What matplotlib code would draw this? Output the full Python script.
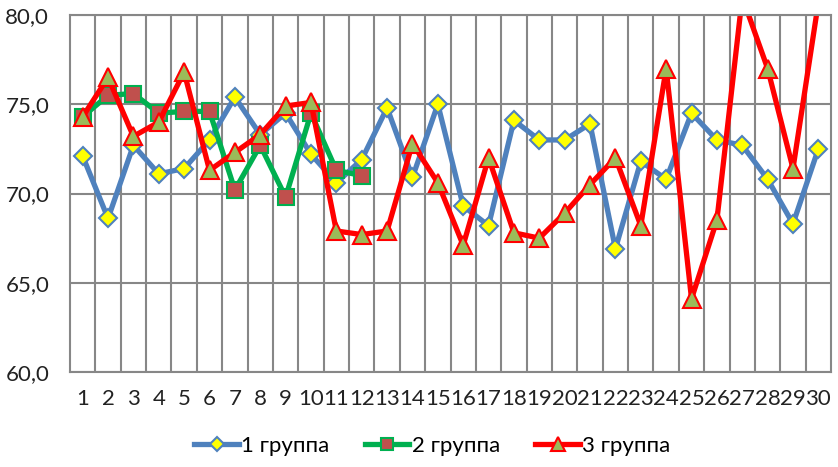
import numpy as np
import matplotlib
matplotlib.use("Agg")
import matplotlib.pyplot as plt

plt.rcParams['font.family'] = ['Lato', 'DejaVu Sans']

# данные
x = list(range(1, 31))
group1 = [72.1, 68.6, 72.7, 71.1, 71.4, 73.0, 75.4, 73.3, 74.5, 72.2,
          70.6, 71.9, 74.8, 70.9, 75.0, 69.3, 68.2, 74.1, 73.0, 73.0,
          73.9, 66.9, 71.8, 70.8, 74.5, 73.0, 72.7, 70.8, 68.3, 72.5]
group2 = [74.3, 75.5, 75.6, 74.5, 74.6, 74.6, 70.2, 72.7, 69.8, 74.5,
          71.3, 71.0]
group3 = [74.3, 76.5, 73.2, 74.0, 76.8, 71.3, 72.3, 73.3, 74.9, 75.1,
          67.9, 67.7, 67.9, 72.8, 70.6, 67.1, 72.0, 67.8, 67.5, 68.9,
          70.5, 72.0, 68.2, 77.0, 64.1, 68.5, 81.0, 77.0, 71.4, 80.7]
labels = ['1 группа', '2 группа', '3 группа']
yticks = [60, 65, 70, 75, 80]

fig = plt.figure(figsize=(8.38, 4.67), dpi=100)
ax = fig.add_axes([0.0835, 0.2034, 0.9082, 0.7645])

grid_c = '#878787'
ax.set_xlim(0.5, 30.5)
ax.set_ylim(60, 80)
ax.set_yticks(yticks)
ax.set_yticklabels([f'{v:.1f}'.replace('.', ',') for v in yticks])
ax.set_xticks(x)
ax.set_xticklabels([str(i) for i in x])
ax.set_xticks(np.arange(1.5, 30, 1), minor=True)
ax.grid(True, axis='y', which='major', color=grid_c, lw=1.5)
ax.grid(True, axis='x', which='minor', color=grid_c, lw=1.5)
ax.tick_params(which='both', length=0, labelsize=16, colors='#222222')
ax.tick_params(axis='y', pad=15)
ax.tick_params(axis='x', pad=12)
for s in ax.spines.values():
    s.set_color(grid_c)
    s.set_linewidth(1.5)
ax.set_axisbelow(True)

ax.plot(x, group1, color='#4F81BD', lw=3.8, marker='D', ms=9.5,
        mfc='#FFFF00', mec='#4F81BD', mew=1.5, label=labels[0])
ax.plot(x[:len(group2)], group2, color='#00B050', lw=3.8, marker='s', ms=12,
        mfc='#C0504D', mec='#00B050', mew=1.5, label=labels[1])
ax.plot(x, group3, color='#FF0000', lw=3.8, marker='^', ms=13,
        mfc='#9BBB59', mec='#FF0000', mew=1.5, label=labels[2])

fig.legend(loc='center', bbox_to_anchor=(0.516, 0.045), ncol=3, frameon=False,
           fontsize=16, handlelength=2.0, columnspacing=1.6, handletextpad=0.1,
           markerscale=0.75)

fig.savefig('out.png', dpi=100)
